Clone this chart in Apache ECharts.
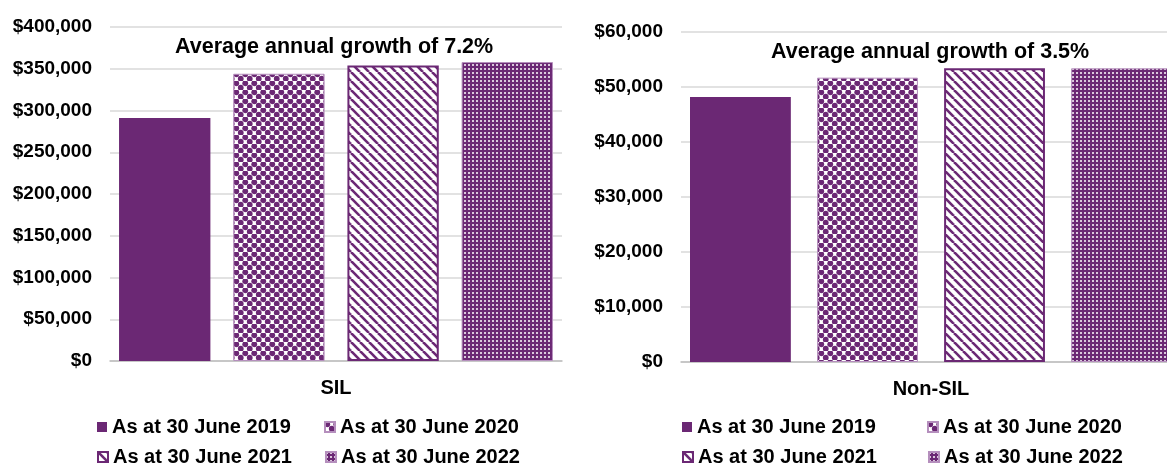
<!DOCTYPE html>
<html>
<head>
<meta charset="utf-8">
<script src="https://cdn.jsdelivr.net/npm/echarts@6/dist/echarts.min.js"></script>
<style>
  html, body { margin: 0; padding: 0; background: #fff; overflow: hidden; }
  #chart { width: 1195px; height: 463px; }
</style>
</head>
<body>
<div id="chart"></div>
<script>
// data
const silCategories = ['SIL']
const nonSilCategories = ['Non-SIL']
const seriesNames = ['As at 30 June 2019', 'As at 30 June 2020', 'As at 30 June 2021', 'As at 30 June 2022']
const silValues = [291000, 344000, 354000, 358000]
const nonSilValues = [48200, 51700, 53400, 53400]
const silTitle = 'Average annual growth of 7.2%'
const nonSilTitle = 'Average annual growth of 3.5%'

const PURPLE = '#6b2874'
const LIGHT = '#b58fbd'
const FONT = '"Liberation Sans", Arial, sans-serif'

// pattern tiles
const makeTile = (w, h, draw) => {
  const c = document.createElement('canvas')
  c.width = w
  c.height = h
  draw(c.getContext('2d'))
  return { image: c, repeat: 'repeat' }
}

const dots = makeTile(9, 9, ctx => {
  ctx.fillStyle = '#fff'
  ctx.fillRect(0, 0, 9, 9)
  ctx.fillStyle = PURPLE
  ;[[2.25, 2.25], [6.75, 6.75], [-2.25, 6.75], [11.25, 2.25]].forEach(([x, y]) => {
    ctx.beginPath()
    ctx.arc(x, y, 2.9, 0, Math.PI * 2)
    ctx.fill()
  })
})

const stripes = makeTile(9, 9, ctx => {
  ctx.fillStyle = '#fff'
  ctx.fillRect(0, 0, 9, 9)
  ctx.strokeStyle = PURPLE
  ctx.lineWidth = 2.6
  ;[[-9, 0], [0, 0], [9, 0]].forEach(([x, y]) => {
    ctx.beginPath()
    ctx.moveTo(x, y)
    ctx.lineTo(x + 9, y + 9)
    ctx.stroke()
  })
})

const grid4 = makeTile(4, 4, ctx => {
  ctx.fillStyle = PURPLE
  ctx.fillRect(0, 0, 4, 4)
  ctx.fillStyle = 'rgba(255,255,255,0.75)'
  ctx.fillRect(0, 0, 2, 2)
})

const styles = [
  { color: PURPLE },
  { color: dots, borderColor: LIGHT, borderWidth: 1 },
  { color: stripes, borderColor: PURPLE, borderWidth: 2 },
  { color: grid4, borderColor: LIGHT, borderWidth: 1 }
]

const money = v => '$' + v.toLocaleString('en-US')

const makeSeries = (values, idx, gap, catGap) =>
  values.map((v, i) => ({
    name: seriesNames[i],
    type: 'bar',
    xAxisIndex: idx,
    yAxisIndex: idx,
    data: [v],
    itemStyle: styles[i],
    barGap: gap,
    barCategoryGap: catGap
  }))

const legendRow = (names, left, top, gap) => ({
  data: names,
  left: left,
  top: top,
  padding: 0,
  itemGap: gap,
  itemWidth: 10,
  itemHeight: 10,
  icon: 'rect',
  textStyle: { fontFamily: FONT, fontSize: 20, fontWeight: 'bold', color: '#000' }
})

const yAxis = (idx, max, interval) => ({
  type: 'value',
  gridIndex: idx,
  min: 0,
  max: max,
  interval: interval,
  axisLabel: { formatter: money, fontFamily: FONT, fontSize: 19, fontWeight: 'bold', color: '#000', margin: 18 },
  splitLine: { lineStyle: { color: '#d9d9d9', width: 1.5 } },
  axisLine: { show: false },
  axisTick: { show: false }
})

const xAxis = (idx, cats) => ({
  type: 'category',
  gridIndex: idx,
  data: cats,
  axisLine: { lineStyle: { color: '#bfbfbf', width: 1.5 } },
  axisTick: { show: false },
  axisLabel: { fontFamily: FONT, fontSize: 20, fontWeight: 'bold', color: '#000', margin: 17 }
})

const chart = echarts.init(document.getElementById('chart'))
chart.setOption({
  animation: false,
  title: [
    { text: silTitle, left: 170, top: 31, textStyle: { fontFamily: FONT, fontSize: 21.5, fontWeight: 'bold', color: '#000' } },
    { text: nonSilTitle, left: 766, top: 36, textStyle: { fontFamily: FONT, fontSize: 21.5, fontWeight: 'bold', color: '#000' } }
  ],
  legend: [
    legendRow(seriesNames.slice(0, 2), 97, 417, 33),
    legendRow(seriesNames.slice(2, 4), 97, 447, 33),
    legendRow(seriesNames.slice(0, 2), 682, 417, 51),
    legendRow(seriesNames.slice(2, 4), 682, 447, 51)
  ],
  grid: [
    { left: 110, top: 27, width: 452, height: 334 },
    { left: 681, top: 32, width: 500, height: 330 }
  ],
  xAxis: [xAxis(0, silCategories), xAxis(1, nonSilCategories)],
  yAxis: [yAxis(0, 400000, 50000), yAxis(1, 60000, 10000)],
  series: [
    ...makeSeries(silValues, 0, '25%', '4%'),
    ...makeSeries(nonSilValues, 1, '26%', '3.6%')
  ]
})
</script>
</body>
</html>
